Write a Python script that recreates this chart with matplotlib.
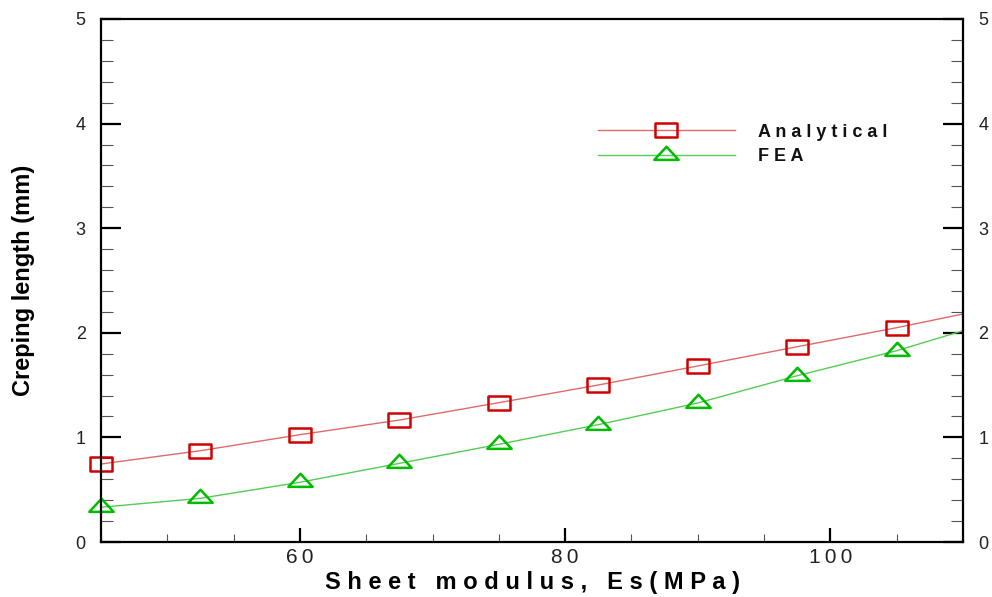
import matplotlib
matplotlib.use("Agg")
import matplotlib.pyplot as plt
from matplotlib.path import Path
from matplotlib.ticker import MultipleLocator, FixedLocator

plt.rcParams['font.family'] = ['Liberation Sans', 'DejaVu Sans']

# Sheet modulus (MPa); the last entry is where the curves run to the frame
modulus = [45, 52.5, 60, 67.5, 75, 82.5, 90, 97.5, 105, 110]
analytical = [0.746, 0.873, 1.026, 1.166, 1.332, 1.501, 1.683, 1.867, 2.049, 2.18]
fea = [0.332, 0.418, 0.571, 0.752, 0.934, 1.122, 1.329, 1.590, 1.829, 2.02]
n_markers = 9

x_major = [60, 80, 100]
x_major_labels = ["6\u20090", "8\u20090", "1\u20090\u20090"]
y_major = [0, 1, 2, 3, 4, 5]
y_major_labels = ["0", "1", "2", "3", "4", "5"]

# Hollow wide rectangle and flat triangle (centroid at origin)
rect_marker = Path([(-1.5, -1.0), (1.5, -1.0), (1.5, 1.0), (-1.5, 1.0), (-1.5, -1.0)],
                   [Path.MOVETO, Path.LINETO, Path.LINETO, Path.LINETO, Path.CLOSEPOLY])
tri_marker = Path([(0.0, 9.0), (-12.5, -4.5), (12.5, -4.5), (0.0, 9.0)],
                  [Path.MOVETO, Path.LINETO, Path.LINETO, Path.CLOSEPOLY])

fig = plt.figure(figsize=(9.92, 5.97), dpi=100)
ax = fig.add_axes([0.1018, 0.0921, 0.8690, 0.8761])

red_line, red_mark = '#e06a6a', '#d10000'
green_line, green_mark = '#55cc55', '#00bb00'

ax.plot(modulus, analytical, color=red_line, lw=1.0, marker=rect_marker,
        markevery=slice(0, n_markers), markersize=15.5, markerfacecolor='none',
        markeredgecolor=red_mark, markeredgewidth=1.8, label="A n a l y t i c a l",
        clip_on=False)
ax.plot(modulus, fea, color=green_line, lw=1.0, marker=tri_marker,
        markevery=slice(0, n_markers), markersize=17.5, markerfacecolor='none',
        markeredgecolor=green_mark, markeredgewidth=1.8, label="F E A",
        clip_on=False)

ax.set_xlim(45, 110)
ax.set_ylim(0, 5)

ax.xaxis.set_major_locator(FixedLocator(x_major))
ax.set_xticklabels(x_major_labels)
ax.xaxis.set_minor_locator(MultipleLocator(5))
ax.yaxis.set_major_locator(FixedLocator(y_major))
ax.set_yticklabels(y_major_labels)
ax.yaxis.set_minor_locator(MultipleLocator(0.2))

for s in ax.spines.values():
    s.set_linewidth(1.6)
    s.set_color('black')

ax.tick_params(axis='x', which='major', direction='in', length=10, width=1.6,
               labelsize=15, pad=4, top=False, colors='black')
ax.tick_params(axis='x', which='minor', direction='in', length=5.5, width=0.8,
               top=False, color='#555555')
ax.tick_params(axis='y', which='major', direction='in', length=14.5, width=1.6,
               labelsize=13, pad=11, left=True, right=True,
               labelleft=True, labelright=True, colors='black')
ax.tick_params(axis='y', which='minor', direction='in', length=8.5, width=0.8,
               left=True, right=True, color='#555555')
for lab in ax.get_xticklabels() + ax.get_yticklabels():
    lab.set_color('#222222')

ax.set_xlabel("S h e e t   m o d u l u s ,   E s ( M P a )", fontsize=17,
              fontweight='bold', labelpad=3)
ax.set_ylabel("Creping length (mm)", fontsize=17, fontweight='bold', labelpad=29)

leg = ax.legend(loc='upper left', bbox_to_anchor=(0.576, 0.80), frameon=False,
                fontsize=13, handlelength=7.6, handletextpad=1.3, labelspacing=0.42,
                numpoints=1, borderpad=0, borderaxespad=0)
for t in leg.get_texts():
    t.set_fontweight('bold')
    t.set_color('#111111')

fig.savefig("out.png", dpi=100)
